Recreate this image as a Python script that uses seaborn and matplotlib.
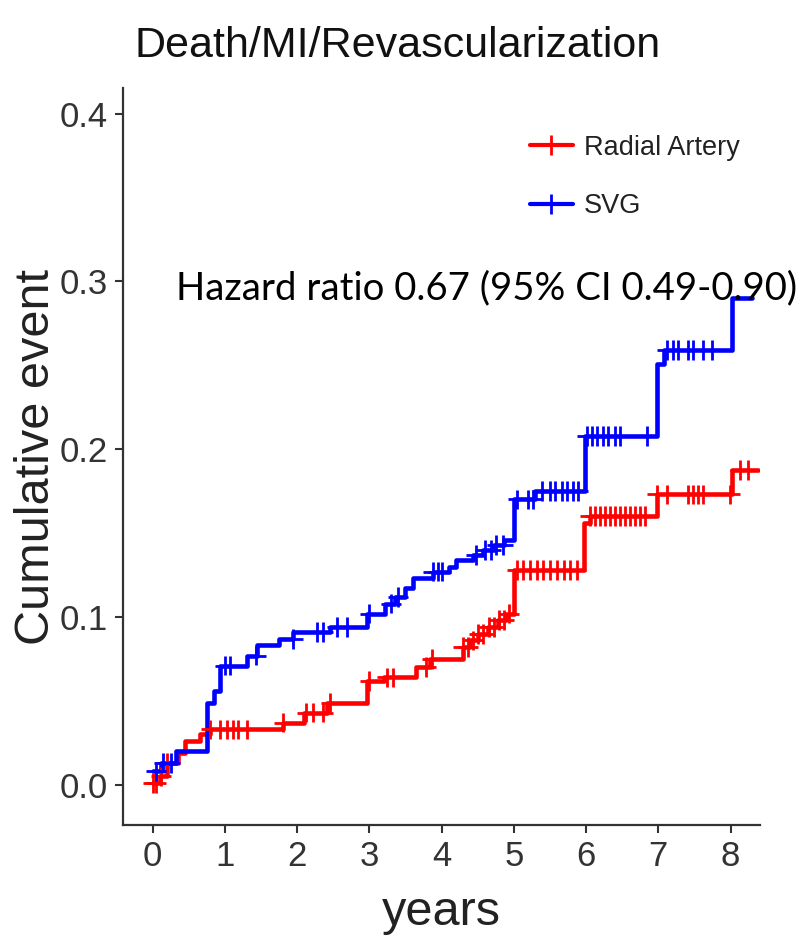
import numpy as np
import pandas as pd
import matplotlib
matplotlib.use("Agg")
import matplotlib.pyplot as plt
from matplotlib.lines import Line2D
import seaborn as sns

# step curves (time in years, cumulative event)
svg_time = [0.0, 0.12, 0.32, 0.75, 0.85, 0.93, 1.30, 1.45, 1.75, 1.95, 2.45, 2.97, 3.22, 3.35,
            3.50, 3.60, 3.88, 4.10, 4.20, 4.44, 4.58, 4.72, 4.86, 5.00, 5.30, 5.98, 6.98, 7.08, 8.02]
svg_cum = [0.008, 0.013, 0.020, 0.049, 0.056, 0.071, 0.077, 0.083, 0.087, 0.091, 0.094, 0.102, 0.108, 0.112,
           0.117, 0.123, 0.127, 0.130, 0.134, 0.137, 0.140, 0.143, 0.146, 0.170, 0.175, 0.208, 0.251, 0.259, 0.290]
svg_end = 8.30

ra_time = [0.0, 0.10, 0.20, 0.35, 0.45, 0.65, 0.80, 1.80, 2.10, 2.42, 2.97, 3.20, 3.65, 3.84, 4.30,
           4.39, 4.50, 4.64, 4.78, 4.89, 5.00, 5.97, 6.05, 6.98, 8.02]
ra_cum = [0.001, 0.005, 0.013, 0.019, 0.026, 0.030, 0.033, 0.037, 0.043, 0.049, 0.062, 0.064, 0.070, 0.075, 0.082,
          0.086, 0.090, 0.094, 0.098, 0.102, 0.128, 0.156, 0.160, 0.173, 0.1875]
ra_end = 8.38

# censoring times (+ marks)
svg_censor = [0.05, 0.15, 0.25, 1.0, 1.07, 1.43, 1.94, 2.27, 2.36, 2.55, 2.69, 3.0, 3.3, 3.4, 3.88, 3.95,
              4.0, 4.47, 4.6, 4.68, 4.76, 4.85, 5.05, 5.19, 5.26, 5.39, 5.5, 5.57, 5.67, 5.74, 5.82, 5.89,
              6.01, 6.08, 6.15, 6.23, 6.3, 6.4, 6.47, 6.84, 7.12, 7.2, 7.27, 7.41, 7.48, 7.62, 7.74]
ra_censor = [0.0, 0.05, 0.12, 0.2, 0.8, 0.93, 1.03, 1.11, 1.18, 1.3, 1.81, 2.13, 2.22, 2.36, 2.46, 3.0,
             3.24, 3.33, 3.78, 3.87, 4.3, 4.37, 4.44, 4.51, 4.58, 4.65, 4.72, 4.79, 4.86, 4.93, 5.04, 5.13,
             5.22, 5.32, 5.41, 5.5, 5.6, 5.69, 5.78, 5.87, 6.05, 6.12, 6.19, 6.26, 6.33, 6.4, 6.47, 6.54,
             6.61, 6.68, 6.75, 6.82, 6.98, 7.12, 7.41, 7.48, 7.55, 7.62, 7.99, 8.13, 8.24]

groups = ["Radial Artery", "SVG"]
colors = {"Radial Artery": "#FF0000", "SVG": "#0000FF"}
x_ticks = [0, 1, 2, 3, 4, 5, 6, 7, 8]
y_ticks = [0.0, 0.1, 0.2, 0.3, 0.4]
hr_text = "Hazard ratio 0.67 (95% CI 0.49-0.90)"

sns.set_style("ticks")
plt.rcParams["font.family"] = ["Liberation Sans", "DejaVu Sans"]


def curve_frame(name, t, c, end):
    return pd.DataFrame({"time": list(t) + [end], "cum": list(c) + [c[-1]], "group": name})


def censor_frame(name, t, c, cens):
    idx = np.searchsorted(t, cens, side="right") - 1
    return pd.DataFrame({"time": cens, "cum": np.asarray(c)[idx], "group": name})


lines = pd.concat([curve_frame("Radial Artery", ra_time, ra_cum, ra_end),
                   curve_frame("SVG", svg_time, svg_cum, svg_end)])
marks = pd.concat([censor_frame("Radial Artery", ra_time, ra_cum, ra_censor),
                   censor_frame("SVG", svg_time, svg_cum, svg_censor)])

fig = plt.figure(figsize=(7.96, 9.4), dpi=100)
ax = fig.add_axes([0.1545, 0.1223, 0.8005, 0.7837])

sns.lineplot(data=lines, x="time", y="cum", hue="group", palette=colors, drawstyle="steps-post",
             estimator=None, sort=False, linewidth=3.3, legend=False, ax=ax)
sns.scatterplot(data=marks, x="time", y="cum", hue="group", palette=colors, marker="+",
                s=200, linewidth=2, legend=False, ax=ax, zorder=3)

ax.set_xlim(-0.41, 8.41)
ax.set_ylim(-0.024, 0.415)
ax.set_xticks(x_ticks)
ax.set_yticks(y_ticks)
ax.set_yticklabels([f"{v:.1f}" for v in y_ticks])
ax.tick_params(labelsize=25, length=6, width=1.5, color="#333333", labelcolor="#333333", pad=5)
ax.set_xlabel("years", fontsize=35, color="#222222", labelpad=12)
ax.set_ylabel("Cumulative event", fontsize=35, color="#222222", labelpad=0)
sns.despine(ax=ax)
for s in ["left", "bottom"]:
    ax.spines[s].set_linewidth(1.6)
    ax.spines[s].set_color("#333333")

handles = [Line2D([0], [0], color=colors[g], lw=3, marker="+", markersize=14, markeredgewidth=2)
           for g in groups]
ax.legend(handles, groups, loc="upper left", bbox_to_anchor=(0.60, 0.97), frameon=False,
          fontsize=19.5, handlelength=1.6, handletextpad=0.4, labelspacing=1.2, labelcolor="#222222")

fig.text(0.499, 0.939, "Death/MI/Revascularization", ha="center", va="baseline",
         fontsize=31, color="#111111")
fig.text(176 / 796, 1 - 299 / 940, hr_text, ha="left", va="baseline", fontsize=27.6,
         family=["Lato", "DejaVu Sans"], color="black")

fig.savefig("out.png", dpi=100)
